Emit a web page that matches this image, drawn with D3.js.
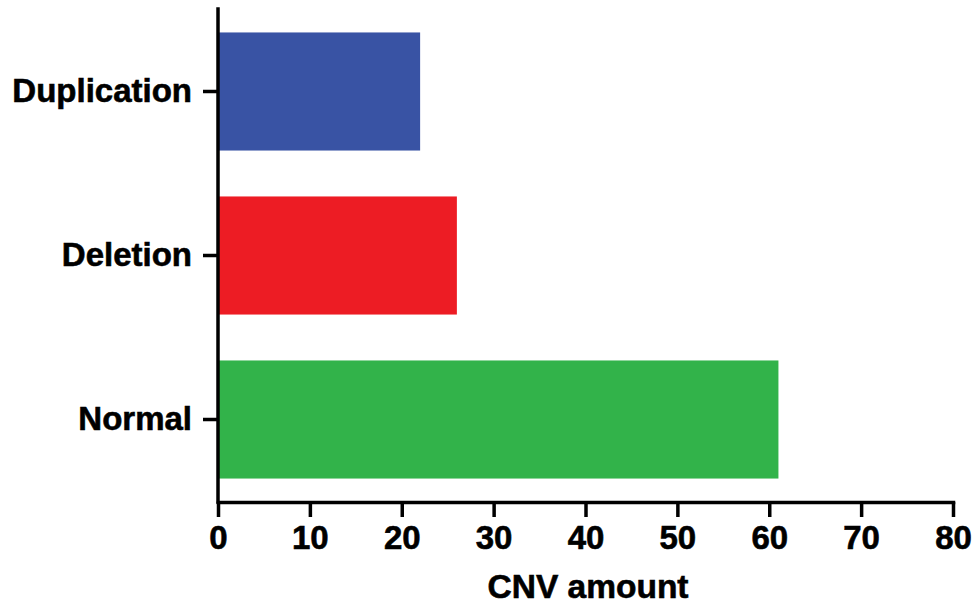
<!DOCTYPE html>
<html><head><meta charset="utf-8">
<script src="https://cdn.jsdelivr.net/npm/d3@7"></script>
<style>body{margin:0;background:#fff}svg{display:block}</style>
</head><body>
<svg id="c" width="976" height="606"></svg>
<script>
const categories = ["Duplication", "Deletion", "Normal"];
const values = [22, 26, 61];
const colors = ["#3953A4", "#ED1C24", "#32B34A"];
const xTicks = [0, 10, 20, 30, 40, 50, 60, 70, 80];
const xTitle = "CNV amount";

const svg = d3.select("#c");
const x = d3.scaleLinear().domain([0, 80]).range([218, 953]);
const y = d3.scaleBand().domain(categories).range([9, 502]).paddingInner(0.28).paddingOuter(0.143);
const font = "'Liberation Sans', Arial, sans-serif";

svg.selectAll("rect.bar").data(categories).join("rect")
  .attr("class", "bar")
  .attr("x", x(0))
  .attr("y", d => y(d))
  .attr("width", (d, i) => x(values[i]) - x(0))
  .attr("height", y.bandwidth())
  .attr("fill", (d, i) => colors[i]);

const xa = svg.append("g").attr("transform", "translate(0,502)")
  .call(d3.axisBottom(x).tickValues(xTicks).tickSize(15).tickSizeOuter(0).tickPadding(9));
const ya = svg.append("g").attr("transform", "translate(218,0)")
  .call(d3.axisLeft(y).tickSize(15).tickSizeOuter(0).tickPadding(11));
ya.select(".domain").attr("d", "M0,9V502");

[xa, ya].forEach(a => {
  a.select(".domain").attr("stroke", "#000").attr("stroke-width", 3.5).attr("stroke-linecap", "square");
  a.selectAll(".tick line").attr("stroke", "#000").attr("stroke-width", 3.5);
  a.selectAll(".tick text").attr("fill", "#000").attr("font-family", font)
    .attr("font-weight", "bold").attr("font-size", 33)
    .attr("stroke", "#000").attr("stroke-width", 0.6);
});

svg.append("text").attr("x", 588).attr("y", 598).attr("text-anchor", "middle")
  .attr("font-family", font).attr("font-weight", "bold").attr("font-size", 33.5)
  .attr("fill", "#000").attr("stroke", "#000").attr("stroke-width", 0.6).text(xTitle);
</script>
</body></html>
